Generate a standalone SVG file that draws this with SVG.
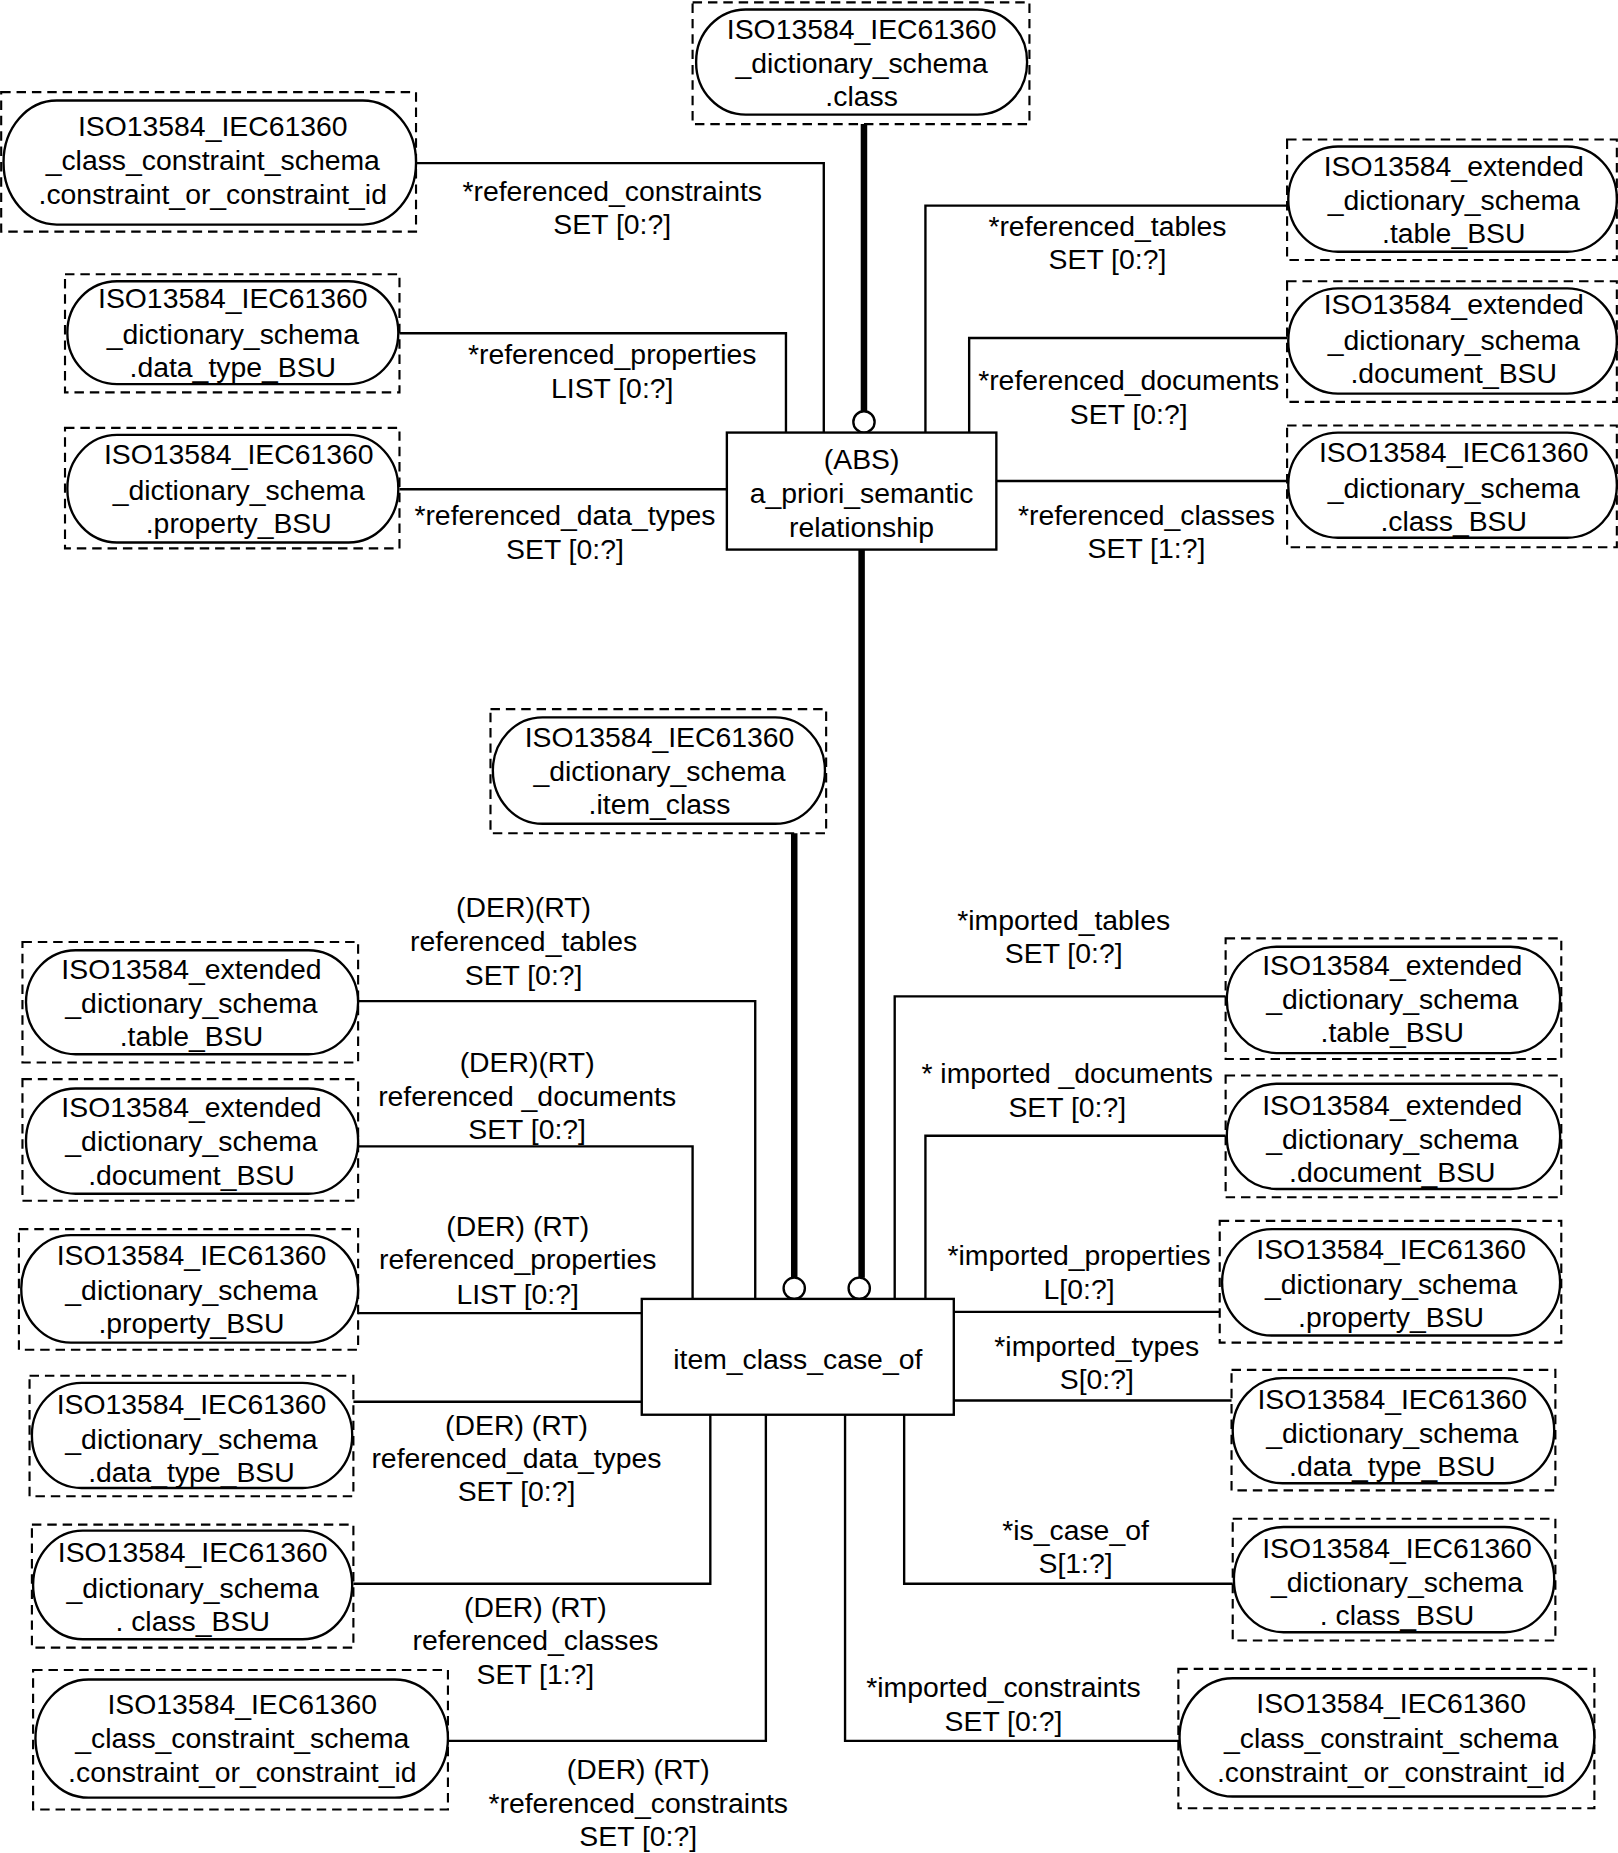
<svg xmlns="http://www.w3.org/2000/svg" width="1618" height="1853" viewBox="0 0 1618 1853">
<style>
.dash{fill:none;stroke:#000;stroke-width:1.8;stroke-dasharray:8 5}
.pill{fill:#fff;stroke:#000;stroke-width:2}
.box{fill:#fff;stroke:#000;stroke-width:2}
.conn{fill:none;stroke:#000;stroke-width:2}
.thick{fill:none;stroke:#000;stroke-width:5.5}
.ring{fill:#fff;stroke:#000;stroke-width:2}
text{font-family:"Liberation Sans",Arial,sans-serif;font-size:24px;text-anchor:middle;fill:#000}
</style>
<rect width="1618" height="1853" fill="#fff"/>
<g transform="scale(1.1819)">
<g id="connectors">
<path class="conn" d="M352 138 H697 V366"/>
<path class="conn" d="M338 282 H665 V366"/>
<path class="conn" d="M338 414 H615"/>
<path class="conn" d="M1089 174 H783 V366"/>
<path class="conn" d="M1089 286 H820 V366"/>
<path class="conn" d="M843 407 H1089"/>
<path class="thick" d="M731 105 V349"/>
<circle class="ring" cx="731" cy="357" r="9"/>
<path class="thick" d="M729 465 V1081"/>
<circle class="ring" cx="727" cy="1090" r="9"/>
<path class="thick" d="M672 705 V1081"/>
<circle class="ring" cx="672" cy="1090" r="9"/>
<path class="conn" d="M303 847 H639 V1099"/>
<path class="conn" d="M303 970 H586 V1099"/>
<path class="conn" d="M303 1111 H543"/>
<path class="conn" d="M299 1186 H543"/>
<path class="conn" d="M299 1340 H601 V1197"/>
<path class="conn" d="M379 1473 H648 V1197"/>
<path class="conn" d="M1037 843 H757 V1099"/>
<path class="conn" d="M1037 961 H783 V1099"/>
<path class="conn" d="M807 1110 H1032"/>
<path class="conn" d="M807 1185 H1042"/>
<path class="conn" d="M765 1197 V1340 H1043"/>
<path class="conn" d="M715 1197 V1473 H998"/>
<text x="518" y="170">*referenced_constraints</text>
<text x="518" y="198">SET [0:?]</text>
<text x="518" y="308">*referenced_properties</text>
<text x="518" y="337">LIST [0:?]</text>
<text x="478" y="444">*referenced_data_types</text>
<text x="478" y="473">SET [0:?]</text>
<text x="937" y="200">*referenced_tables</text>
<text x="937" y="228">SET [0:?]</text>
<text x="955" y="330">*referenced_documents</text>
<text x="955" y="359">SET [0:?]</text>
<text x="970" y="444">*referenced_classes</text>
<text x="970" y="472">SET [1:?]</text>
<text x="443" y="776">(DER)(RT)</text>
<text x="443" y="805">referenced_tables</text>
<text x="443" y="833">SET [0:?]</text>
<text x="446" y="907">(DER)(RT)</text>
<text x="446" y="936">referenced _documents</text>
<text x="446" y="964">SET [0:?]</text>
<text x="438" y="1046">(DER) (RT)</text>
<text x="438" y="1074">referenced_properties</text>
<text x="438" y="1103">LIST [0:?]</text>
<text x="437" y="1214">(DER) (RT)</text>
<text x="437" y="1242">referenced_data_types</text>
<text x="437" y="1270">SET [0:?]</text>
<text x="453" y="1368">(DER) (RT)</text>
<text x="453" y="1396">referenced_classes</text>
<text x="453" y="1425">SET [1:?]</text>
<text x="540" y="1505">(DER) (RT)</text>
<text x="540" y="1534">*referenced_constraints</text>
<text x="540" y="1562">SET [0:?]</text>
<text x="900" y="787">*imported_tables</text>
<text x="900" y="815">SET [0:?]</text>
<text x="903" y="916">* imported _documents</text>
<text x="903" y="945">SET [0:?]</text>
<text x="913" y="1070">*imported_properties</text>
<text x="913" y="1099">L[0:?]</text>
<text x="928" y="1147">*imported_types</text>
<text x="928" y="1175">S[0:?]</text>
<text x="910" y="1303">*is_case_of</text>
<text x="910" y="1331">S[1:?]</text>
<text x="849" y="1436">*imported_constraints</text>
<text x="849" y="1465">SET [0:?]</text>
</g>
<g id="n_class">
<rect class="dash" x="586" y="2" width="285" height="103"/>
<rect class="pill" x="589" y="8" width="280" height="89" rx="42" ry="44"/>
<text x="729" y="33">ISO13584_IEC61360</text>
<text x="729" y="62">_dictionary_schema</text>
<text x="729" y="90">.class</text>
</g>
<g id="n_apriori">
<rect class="box" x="615" y="366" width="228" height="99"/>
<text x="729" y="397">(ABS)</text>
<text x="729" y="426">a_priori_semantic</text>
<text x="729" y="454">relationship</text>
</g>
<g id="n_tl_constraint">
<rect class="dash" x="1" y="78" width="351" height="118"/>
<rect class="pill" x="3" y="85" width="349" height="105" rx="45" ry="52"/>
<text x="180" y="115">ISO13584_IEC61360</text>
<text x="180" y="144">_class_constraint_schema</text>
<text x="180" y="173">.constraint_or_constraint_id</text>
</g>
<g id="n_tl_datatype">
<rect class="dash" x="55" y="232" width="283" height="100"/>
<rect class="pill" x="57" y="238" width="280" height="87" rx="42" ry="43"/>
<text x="197" y="261">ISO13584_IEC61360</text>
<text x="197" y="291">_dictionary_schema</text>
<text x="197" y="319">.data_type_BSU</text>
</g>
<g id="n_tl_property">
<rect class="dash" x="55" y="362" width="283" height="102"/>
<rect class="pill" x="57" y="368" width="280" height="91" rx="42" ry="45"/>
<text x="202" y="393">ISO13584_IEC61360</text>
<text x="202" y="423">_dictionary_schema</text>
<text x="202" y="451">.property_BSU</text>
</g>
<g id="n_tr_table">
<rect class="dash" x="1089" y="118" width="279" height="102"/>
<rect class="pill" x="1090" y="124" width="278" height="89" rx="42" ry="44"/>
<text x="1230" y="149">ISO13584_extended</text>
<text x="1230" y="178">_dictionary_schema</text>
<text x="1230" y="206">.table_BSU</text>
</g>
<g id="n_tr_document">
<rect class="dash" x="1089" y="238" width="279" height="102"/>
<rect class="pill" x="1090" y="244" width="278" height="89" rx="42" ry="44"/>
<text x="1230" y="266">ISO13584_extended</text>
<text x="1230" y="296">_dictionary_schema</text>
<text x="1230" y="324">.document_BSU</text>
</g>
<g id="n_tr_class">
<rect class="dash" x="1089" y="360" width="279" height="103"/>
<rect class="pill" x="1090" y="366" width="278" height="89" rx="42" ry="44"/>
<text x="1230" y="391">ISO13584_IEC61360</text>
<text x="1230" y="421">_dictionary_schema</text>
<text x="1230" y="449">.class_BSU</text>
</g>
<g id="n_item_class">
<rect class="dash" x="415" y="600" width="284" height="105"/>
<rect class="pill" x="417" y="607" width="281" height="90" rx="42" ry="45"/>
<text x="558" y="632">ISO13584_IEC61360</text>
<text x="558" y="661">_dictionary_schema</text>
<text x="558" y="689">.item_class</text>
</g>
<g id="n_case_of">
<rect class="box" x="543" y="1099" width="264" height="98"/>
<text x="675" y="1158">item_class_case_of</text>
</g>
<g id="n_bl_table">
<rect class="dash" x="19" y="797" width="284" height="102"/>
<rect class="pill" x="22" y="804" width="281" height="88" rx="42" ry="44"/>
<text x="162" y="828">ISO13584_extended</text>
<text x="162" y="857">_dictionary_schema</text>
<text x="162" y="885">.table_BSU</text>
</g>
<g id="n_bl_document">
<rect class="dash" x="19" y="913" width="284" height="103"/>
<rect class="pill" x="22" y="921" width="281" height="89" rx="42" ry="44"/>
<text x="162" y="945">ISO13584_extended</text>
<text x="162" y="974">_dictionary_schema</text>
<text x="162" y="1003">.document_BSU</text>
</g>
<g id="n_bl_property">
<rect class="dash" x="16" y="1040" width="287" height="102"/>
<rect class="pill" x="18" y="1045" width="285" height="91" rx="42" ry="45"/>
<text x="162" y="1070">ISO13584_IEC61360</text>
<text x="162" y="1100">_dictionary_schema</text>
<text x="162" y="1128">.property_BSU</text>
</g>
<g id="n_bl_datatype">
<rect class="dash" x="25" y="1164" width="274" height="102"/>
<rect class="pill" x="27" y="1170" width="271" height="89" rx="42" ry="44"/>
<text x="162" y="1196">ISO13584_IEC61360</text>
<text x="162" y="1226">_dictionary_schema</text>
<text x="162" y="1254">.data_type_BSU</text>
</g>
<g id="n_bl_class">
<rect class="dash" x="27" y="1290" width="272" height="104"/>
<rect class="pill" x="28" y="1295" width="270" height="92" rx="42" ry="46"/>
<text x="163" y="1322">ISO13584_IEC61360</text>
<text x="163" y="1352">_dictionary_schema</text>
<text x="163" y="1380">. class_BSU</text>
</g>
<g id="n_bl_constraint">
<rect class="dash" x="28" y="1413" width="351" height="118"/>
<rect class="pill" x="30" y="1421" width="349" height="100" rx="45" ry="50"/>
<text x="205" y="1450">ISO13584_IEC61360</text>
<text x="205" y="1479">_class_constraint_schema</text>
<text x="205" y="1508">.constraint_or_constraint_id</text>
</g>
<g id="n_br_table">
<rect class="dash" x="1037" y="794" width="284" height="102"/>
<rect class="pill" x="1038" y="801" width="282" height="90" rx="42" ry="45"/>
<text x="1178" y="825">ISO13584_extended</text>
<text x="1178" y="854">_dictionary_schema</text>
<text x="1178" y="882">.table_BSU</text>
</g>
<g id="n_br_document">
<rect class="dash" x="1037" y="910" width="284" height="103"/>
<rect class="pill" x="1038" y="917" width="282" height="89" rx="42" ry="44"/>
<text x="1178" y="943">ISO13584_extended</text>
<text x="1178" y="972">_dictionary_schema</text>
<text x="1178" y="1000">.document_BSU</text>
</g>
<g id="n_br_property">
<rect class="dash" x="1032" y="1033" width="289" height="103"/>
<rect class="pill" x="1034" y="1040" width="286" height="90" rx="42" ry="45"/>
<text x="1177" y="1065">ISO13584_IEC61360</text>
<text x="1177" y="1095">_dictionary_schema</text>
<text x="1177" y="1123">.property_BSU</text>
</g>
<g id="n_br_datatype">
<rect class="dash" x="1042" y="1159" width="274" height="102"/>
<rect class="pill" x="1043" y="1166" width="272" height="89" rx="42" ry="44"/>
<text x="1178" y="1192">ISO13584_IEC61360</text>
<text x="1178" y="1221">_dictionary_schema</text>
<text x="1178" y="1249">.data_type_BSU</text>
</g>
<g id="n_br_class">
<rect class="dash" x="1043" y="1285" width="273" height="103"/>
<rect class="pill" x="1044" y="1292" width="271" height="89" rx="42" ry="44"/>
<text x="1182" y="1318">ISO13584_IEC61360</text>
<text x="1182" y="1347">_dictionary_schema</text>
<text x="1182" y="1375">. class_BSU</text>
</g>
<g id="n_br_constraint">
<rect class="dash" x="997" y="1412" width="352" height="118"/>
<rect class="pill" x="998" y="1420" width="351" height="100" rx="45" ry="50"/>
<text x="1177" y="1449">ISO13584_IEC61360</text>
<text x="1177" y="1479">_class_constraint_schema</text>
<text x="1177" y="1508">.constraint_or_constraint_id</text>
</g>
</g>
</svg>
